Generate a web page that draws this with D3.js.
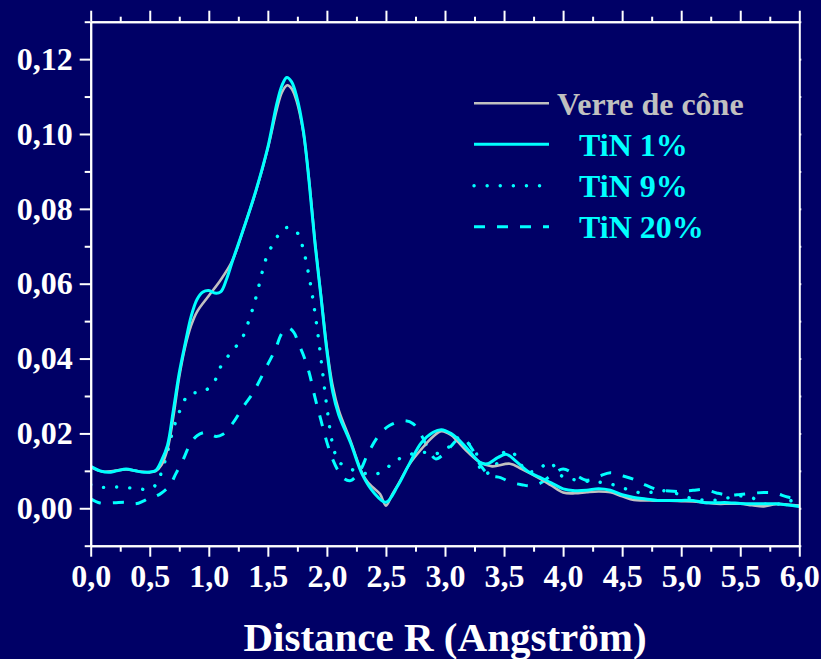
<!DOCTYPE html>
<html>
<head>
<meta charset="utf-8">
<script src="https://cdn.jsdelivr.net/npm/d3@7"></script>
<style>
  html, body { margin: 0; padding: 0; background: #000066; }
  svg { display: block; }
  text { font-family: "Liberation Serif", "Times New Roman", serif; font-weight: bold; }
</style>
</head>
<body>
<svg id="chart" width="821" height="659"></svg>
<script>
// Radial distribution |FT| vs distance R (Å), pairs of [R, value]
const verreDeCone = [
  [0,0.0110],[0.1,0.0098],[0.2,0.0100],[0.3,0.0104],[0.4,0.0099],[0.5,0.0096],[0.55,0.0099],
  [0.6,0.0116],[0.65,0.0158],[0.7,0.0245],[0.75,0.0352],[0.8,0.0432],[0.85,0.0488],[0.9,0.0525],
  [1.0,0.0568],[1.1,0.0610],[1.2,0.0662],[1.3,0.0752],[1.4,0.0848],[1.5,0.0962],[1.575,0.1065],
  [1.62,0.1112],[1.665,0.1130],[1.7,0.1122],[1.744,0.1088],[1.8,0.1005],[1.85,0.0875],[1.9,0.0710],
  [1.95,0.0568],[2.0,0.0428],[2.05,0.0325],[2.1,0.0262],[2.2,0.0180],[2.3,0.0093],[2.35,0.0068],
  [2.4,0.0053],[2.45,0.0038],[2.5,0.0007],[2.55,0.0035],[2.6,0.0062],[2.7,0.0118],[2.8,0.0158],
  [2.9,0.0192],[2.97,0.0206],[3.05,0.0196],[3.1,0.0181],[3.2,0.0148],[3.3,0.0122],[3.4,0.0112],
  [3.55,0.0119],[3.65,0.0105],[3.8,0.0080],[3.9,0.0061],[4.0,0.0042],[4.1,0.0040],[4.2,0.0043],
  [4.3,0.0045],[4.4,0.0043],[4.5,0.0032],[4.6,0.0022],[4.7,0.0021],[4.8,0.0020],[4.9,0.0020],
  [5.0,0.0019],[5.1,0.0018],[5.2,0.0015],[5.3,0.0012],[5.4,0.0012],[5.5,0.0012],[5.6,0.0008],
  [5.7,0.0005],[5.8,0.0011],[5.9,0.0010],[6.0,0.0007]
];
const tin1 = [
  [0,0.0112],[0.08,0.0100],[0.15,0.0096],[0.22,0.0100],[0.3,0.0105],[0.38,0.0100],[0.45,0.0096],
  [0.5,0.0097],[0.55,0.0101],[0.6,0.0128],[0.65,0.0168],[0.7,0.0262],[0.75,0.0362],[0.8,0.0440],
  [0.85,0.0512],[0.9,0.0558],[0.95,0.0578],[1.0,0.0582],[1.05,0.0575],[1.1,0.0578],[1.15,0.0612],
  [1.2,0.0660],[1.3,0.0752],[1.4,0.0850],[1.5,0.0965],[1.575,0.1080],[1.62,0.1130],[1.66,0.1151],
  [1.7,0.1140],[1.744,0.1100],[1.8,0.1010],[1.85,0.0870],[1.9,0.0705],[1.95,0.0565],[2.0,0.0420],
  [2.05,0.0310],[2.1,0.0250],[2.2,0.0175],[2.3,0.0090],[2.4,0.0041],[2.5,0.0016],[2.6,0.0060],
  [2.7,0.0120],[2.8,0.0175],[2.9,0.0203],[2.97,0.0210],[3.05,0.0200],[3.1,0.0188],[3.2,0.0155],
  [3.3,0.0122],[3.36,0.0119],[3.45,0.0136],[3.52,0.0144],[3.6,0.0126],[3.7,0.0099],[3.8,0.0083],
  [3.9,0.0068],[4.0,0.0052],[4.1,0.0047],[4.2,0.0048],[4.3,0.0052],[4.4,0.0048],[4.5,0.0036],
  [4.6,0.0029],[4.7,0.0025],[4.8,0.0021],[4.9,0.0021],[5.0,0.0021],[5.1,0.0021],[5.2,0.0015],
  [5.3,0.0015],[5.4,0.0015],[5.5,0.0013],[5.6,0.0012],[5.7,0.0012],[5.8,0.0012],[5.9,0.0009],
  [6.0,0.0005]
];
const tin9 = [
  [0,0.0063],[0.1,0.0056],[0.2,0.0057],[0.3,0.0055],[0.4,0.0053],[0.48,0.0050],[0.55,0.0062],
  [0.6,0.0097],[0.65,0.0150],[0.7,0.0212],[0.75,0.0257],[0.8,0.0292],[0.85,0.0307],[0.95,0.0310],
  [1.0,0.0322],[1.05,0.0340],[1.1,0.0378],[1.2,0.0421],[1.28,0.0453],[1.35,0.0512],[1.4,0.0564],
  [1.46,0.0640],[1.5,0.0680],[1.56,0.0714],[1.6,0.0735],[1.66,0.0750],[1.72,0.0745],[1.76,0.0731],
  [1.8,0.0692],[1.85,0.0618],[1.9,0.0520],[1.95,0.0400],[2.0,0.0270],[2.05,0.0170],[2.1,0.0125],
  [2.2,0.0105],[2.3,0.0095],[2.4,0.0090],[2.5,0.0105],[2.56,0.0123],[2.68,0.0141],[2.8,0.0150],
  [2.915,0.0145],[3.03,0.0163],[3.1,0.0188],[3.2,0.0172],[3.25,0.0160],[3.32,0.0092],[3.4,0.0102],
  [3.5,0.0150],[3.55,0.0154],[3.61,0.0136],[3.69,0.0098],[3.78,0.0102],[3.89,0.0123],[3.97,0.0090],
  [4.07,0.0078],[4.2,0.0072],[4.3,0.0070],[4.4,0.0065],[4.5,0.0055],[4.6,0.0045],[4.7,0.0040],
  [4.8,0.0047],[4.9,0.0045],[5.0,0.0035],[5.1,0.0025],[5.2,0.0022],[5.3,0.0022],[5.4,0.0028],
  [5.5,0.0033],[5.6,0.0028],[5.7,0.0012],[5.8,0.0010],[5.9,0.0018],[6.0,0.0025]
];
const tin20 = [
  [0,0.0025],[0.08,0.0014],[0.2,0.0015],[0.3,0.0016],[0.38,0.0012],[0.45,0.0020],[0.5,0.0028],
  [0.55,0.0032],[0.6,0.0041],[0.67,0.0061],[0.72,0.0092],[0.78,0.0128],[0.84,0.0170],[0.9,0.0194],
  [0.98,0.0203],[1.06,0.0192],[1.12,0.0198],[1.2,0.0226],[1.3,0.0275],[1.37,0.0306],[1.43,0.0341],
  [1.5,0.0385],[1.56,0.0422],[1.62,0.0468],[1.67,0.0482],[1.72,0.0470],[1.76,0.0440],[1.8,0.0410],
  [1.85,0.0362],[1.9,0.0295],[1.95,0.0235],[2.0,0.0176],[2.05,0.0130],[2.1,0.0098],[2.15,0.0078],
  [2.2,0.0074],[2.28,0.0100],[2.35,0.0148],[2.45,0.0199],[2.53,0.0221],[2.65,0.0234],[2.73,0.0226],
  [2.8,0.0195],[2.86,0.0158],[2.92,0.0132],[3.0,0.0148],[3.1,0.0182],[3.15,0.0188],[3.23,0.0158],
  [3.3,0.0115],[3.38,0.0088],[3.47,0.0082],[3.55,0.0070],[3.65,0.0063],[3.72,0.0060],[3.8,0.0066],
  [3.9,0.0088],[4.0,0.0105],[4.1,0.0090],[4.2,0.0075],[4.3,0.0085],[4.4,0.0095],[4.5,0.0087],
  [4.6,0.0077],[4.7,0.0062],[4.8,0.0050],[4.9,0.0046],[5.0,0.0045],[5.1,0.0048],[5.2,0.0050],
  [5.3,0.0041],[5.4,0.0035],[5.5,0.0037],[5.6,0.0040],[5.7,0.0042],[5.8,0.0040],[5.9,0.0030],
  [6.0,0.0024]
];

const seriesNames = ["Verre de cône", "TiN 1%", "TiN 9%", "TiN 20%"];
const xMajorTicks = [0, 0.5, 1, 1.5, 2, 2.5, 3, 3.5, 4, 4.5, 5, 5.5, 6];
const yMajorTicks = [0, 0.02, 0.04, 0.06, 0.08, 0.10, 0.12];
const xTitle = "Distance R (Angström)";

const series = [
  { name: seriesNames[0], data: verreDeCone, color: "#c0c0c0", width: 2.6, dash: null, cap: "butt" },
  { name: seriesNames[1], data: tin1, color: "#00ffff", width: 3, dash: null, cap: "butt" },
  { name: seriesNames[2], data: tin9, color: "#00ffff", width: 3.4, dash: "0.1 13", cap: "round" },
  { name: seriesNames[3], data: tin20, color: "#00ffff", width: 3, dash: "11 12", cap: "butt" }
];

const svg = d3.select("#chart");
const plotLeft = 90.7, plotRight = 799.3, plotTop = 21.7, plotBottom = 545.7;

const x = d3.scaleLinear().domain([0, 6]).range([plotLeft, plotRight]);
const y = d3.scaleLinear().domain([-0.01, 0.13]).range([plotBottom, plotTop]);

const comma = d3.formatLocale({ decimal: ",", thousands: ".", grouping: [3], currency: ["", ""] });
const fx = comma.format(".1f");
const fy = comma.format(".2f");

svg.append("rect").attr("width", 821).attr("height", 659).attr("fill", "#000066");

// clipped curves
svg.append("defs").append("clipPath").attr("id", "plotClip")
  .append("rect").attr("x", plotLeft).attr("y", plotTop)
  .attr("width", plotRight - plotLeft).attr("height", plotBottom - plotTop);

const line = d3.line()
  .x(d => x(d[0]))
  .y(d => y(d[1]))
  .curve(d3.curveCatmullRom.alpha(0.5));

const plot = svg.append("g").attr("clip-path", "url(#plotClip)");
// dashed and dotted first, then the glass reference and TiN 1% on top
[3, 2, 0, 1].forEach(i => {
  const s = series[i];
  plot.append("path")
    .datum(s.data)
    .attr("fill", "none")
    .attr("stroke", s.color)
    .attr("stroke-width", s.width)
    .attr("stroke-linecap", s.cap)
    .attr("stroke-linejoin", "round")
    .attr("stroke-dasharray", s.dash)
    .attr("d", line);
});

// axes
const axisColor = "#ffffff";
function styleAxis(g) {
  g.selectAll(".domain").attr("stroke", axisColor).attr("stroke-width", 2);
  g.selectAll(".tick line").attr("stroke", axisColor).attr("stroke-width", 2);
  g.selectAll(".tick text").attr("fill", axisColor)
    .style("font-size", "32px")
    .style("font-family", "'Liberation Serif', 'Times New Roman', serif")
    .style("font-weight", "bold");
}

const xMinor = d3.range(0, 6.001, 0.25).filter(v => Math.abs(v * 2 - Math.round(v * 2)) > 1e-6);
const yMinor = d3.range(-0.01, 0.1301, 0.01).filter(v => Math.abs(v * 50 - Math.round(v * 50)) > 1e-6);

// bottom
svg.append("g").attr("transform", `translate(0,${plotBottom})`)
  .call(d3.axisBottom(x).tickValues(xMinor).tickSize(6).tickFormat("").tickSizeOuter(0))
  .call(styleAxis);
svg.append("g").attr("transform", `translate(0,${plotBottom})`)
  .call(d3.axisBottom(x).tickValues(xMajorTicks).tickSize(11).tickPadding(8).tickFormat(fx).tickSizeOuter(0))
  .call(styleAxis);
// top
svg.append("g").attr("transform", `translate(0,${plotTop})`)
  .call(d3.axisTop(x).tickValues(xMinor).tickSize(5).tickFormat("").tickSizeOuter(0))
  .call(styleAxis);
svg.append("g").attr("transform", `translate(0,${plotTop})`)
  .call(d3.axisTop(x).tickValues(xMajorTicks).tickSize(11).tickFormat("").tickSizeOuter(0))
  .call(styleAxis);
// left
svg.append("g").attr("transform", `translate(${plotLeft},0)`)
  .call(d3.axisLeft(y).tickValues(yMinor).tickSize(6).tickFormat("").tickSizeOuter(0))
  .call(styleAxis);
svg.append("g").attr("transform", `translate(${plotLeft},0)`)
  .call(d3.axisLeft(y).tickValues(yMajorTicks).tickSize(11).tickPadding(7).tickFormat(fy).tickSizeOuter(0))
  .call(styleAxis);
// right
svg.append("g").attr("transform", `translate(${plotRight},0)`)
  .call(d3.axisRight(y).tickValues(yMinor.concat(yMajorTicks)).tickSize(2).tickFormat("").tickSizeOuter(0))
  .call(styleAxis);

// axis title
svg.append("text")
  .attr("x", (plotLeft + plotRight) / 2)
  .attr("y", 650.5)
  .attr("text-anchor", "middle")
  .attr("fill", "#ffffff")
  .style("font-size", "41px")
  .text(xTitle);

// legend
const legend = svg.append("g");
const legendRows = [
  { s: series[0], ly: 103.3, tx: 557, ty: 114.5 },
  { s: series[1], ly: 144.3, tx: 579, ty: 155.8 },
  { s: series[2], ly: 185.7, tx: 579, ty: 197 },
  { s: series[3], ly: 226.7, tx: 579, ty: 238.3 }
];
legendRows.forEach(r => {
  legend.append("line")
    .attr("x1", 474).attr("x2", 549)
    .attr("y1", r.ly).attr("y2", r.ly)
    .attr("stroke", r.s.color)
    .attr("stroke-width", r.s.width)
    .attr("stroke-linecap", r.s.cap)
    .attr("stroke-dasharray", r.s.dash);
  legend.append("text")
    .attr("x", r.tx).attr("y", r.ty)
    .attr("fill", r.s.color)
    .style("font-size", "32px")
    .text(r.s.name);
});
</script>
</body>
</html>
